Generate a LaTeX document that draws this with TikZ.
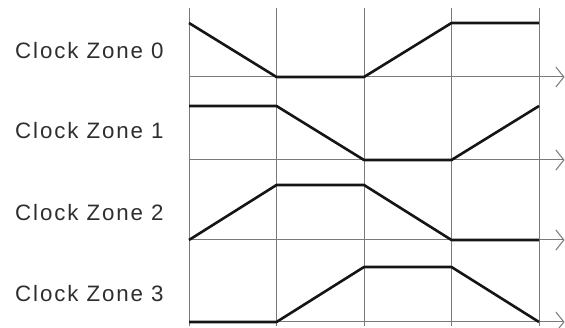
\documentclass[tikz,border=0pt]{standalone}
\usepackage{fontspec}
\setmainfont{Liberation Sans}[LetterSpace=8.5]
\usetikzlibrary{arrows.meta}
\definecolor{GridGrey}{HTML}{7A7A7A}
\definecolor{WaveBlack}{HTML}{151515}
\definecolor{LabelGrey}{HTML}{2E2E2E}

\begin{document}
\begin{tikzpicture}[x=1pt,y=-1pt,>={Straight Barb[length=8pt,width=20pt]},
  grid/.style={GridGrey,line width=1pt},
  wave/.style={WaveBlack,line width=2.6pt,line join=round},
  zonelabel/.style={LabelGrey,anchor=base west,inner sep=0pt,
    font=\fontsize{22.3}{24}\selectfont}]
  \useasboundingbox (0,0) rectangle (565,328);
  % phase boundaries
  \foreach \t in {189,276.5,364,451.5,539}
    \draw[grid] (\t,8) -- (\t,326);
  % time axes
  \foreach \y in {77,160,240,322}
    \draw[grid,->] (189,\y) -- (564.5,\y);
  % labels
  \node[zonelabel] (zone0) at (15,59) {Clock Zone 0};
  \node[zonelabel] (zone1) at (15,139) {Clock Zone 1};
  \node[zonelabel] (zone2) at (15,221) {Clock Zone 2};
  \node[zonelabel] (zone3) at (15,302) {Clock Zone 3};
  % clock signals
  \draw[wave] (189,23) -- (276.5,77) -- (364,77) -- (451.5,23) -- (539,23);
  \draw[wave] (189,106) -- (276.5,106) -- (364,160) -- (451.5,160) -- (539,106);
  \draw[wave] (189,240) -- (276.5,185) -- (364,185) -- (451.5,240) -- (539,240);
  \draw[wave] (189,322) -- (276.5,322) -- (364,267) -- (451.5,267) -- (539,322);
\end{tikzpicture}
\end{document}
